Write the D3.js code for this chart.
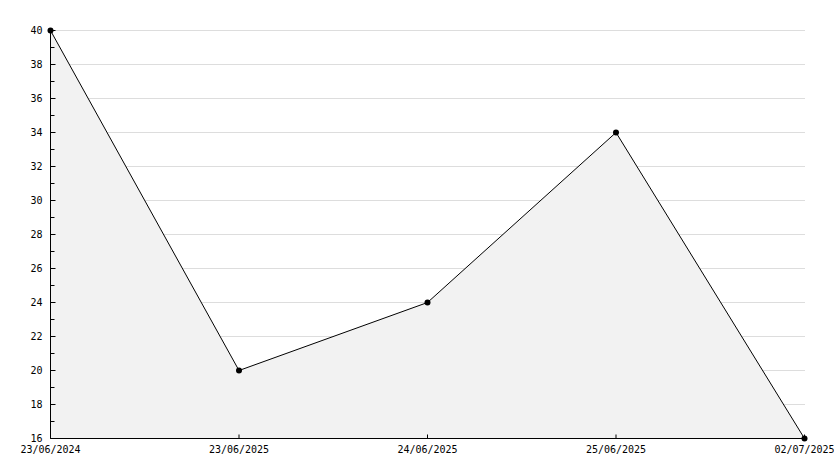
<!DOCTYPE html>
<html><head><meta charset="utf-8">
<script src="https://cdn.jsdelivr.net/npm/d3@7"></script>
<style>body{margin:0;background:#fff}svg{display:block}text{font-family:"DejaVu Sans Mono",monospace;font-size:10px;fill:#000}</style>
</head><body>
<script>
const categories = ["23/06/2024","23/06/2025","24/06/2025","25/06/2025","02/07/2025"];
const values = [40, 20, 24, 34, 16];
const yMajorTicks = [16,18,20,22,24,26,28,30,32,34,36,38,40];
const yMinorTicks = [17,19,21,23,25,27,29,31,33,35,37,39];

const W = 834, H = 468;
const svg = d3.select("body").append("svg").attr("width", W).attr("height", H);
const x = d3.scalePoint().domain(categories).range([50.5, 804.5]).padding(0);
const y = d3.scaleLinear().domain([16, 40]).range([438.5, 30.5]);

// grid
svg.append("g").selectAll("line").data(yMajorTicks.filter(v => v > 16)).join("line")
  .attr("x1", 51).attr("x2", 805).attr("y1", d => y(d)).attr("y2", d => y(d))
  .attr("stroke", "#dddddd").attr("stroke-width", 1);

// area
svg.append("path").datum(categories.map((c, i) => ({c, v: values[i]})))
  .attr("d", d3.area().x(d => x(d.c)).y0(y(16)).y1(d => y(d.v)))
  .attr("fill", "#f2f2f2");
svg.append("path").datum(categories.map((c, i) => ({c, v: values[i]})))
  .attr("d", d3.line().x(d => x(d.c)).y(d => y(d.v)))
  .attr("fill", "none").attr("stroke", "#000").attr("stroke-width", 1);

// y axis
const yAxis = svg.append("g").attr("transform", "translate(50.5,0)")
  .call(d3.axisLeft(y).tickValues(yMajorTicks).tickFormat(d3.format("d")).tickSizeInner(-5).tickSizeOuter(0).tickPadding(8).offset(0));
yAxis.selectAll("text").attr("font-family", null).attr("font-size", null).style("font-family", "DejaVu Sans Mono").style("font-size", "10px");
yAxis.select(".domain").attr("stroke", "#000");
svg.append("g").attr("transform", "translate(50.5,0)")
  .call(d3.axisLeft(y).tickValues(yMinorTicks).tickFormat("").tickSizeInner(-4).tickSizeOuter(0).offset(0))
  .select(".domain").remove();

// x axis
const xAxis = svg.append("g").attr("transform", "translate(0,438.5)")
  .call(d3.axisBottom(x).tickSizeInner(-4).tickSizeOuter(0).tickPadding(7).offset(0));
xAxis.selectAll("text").attr("font-family", null).attr("font-size", null).style("font-family", "DejaVu Sans Mono").style("font-size", "10px");
xAxis.select(".domain").attr("stroke", "#000");

// markers
svg.append("g").selectAll("circle").data(categories.map((c, i) => ({c, v: values[i]}))).join("circle")
  .attr("cx", d => x(d.c)).attr("cy", d => y(d.v)).attr("r", 3).attr("fill", "#000");
</script>
</body></html>
